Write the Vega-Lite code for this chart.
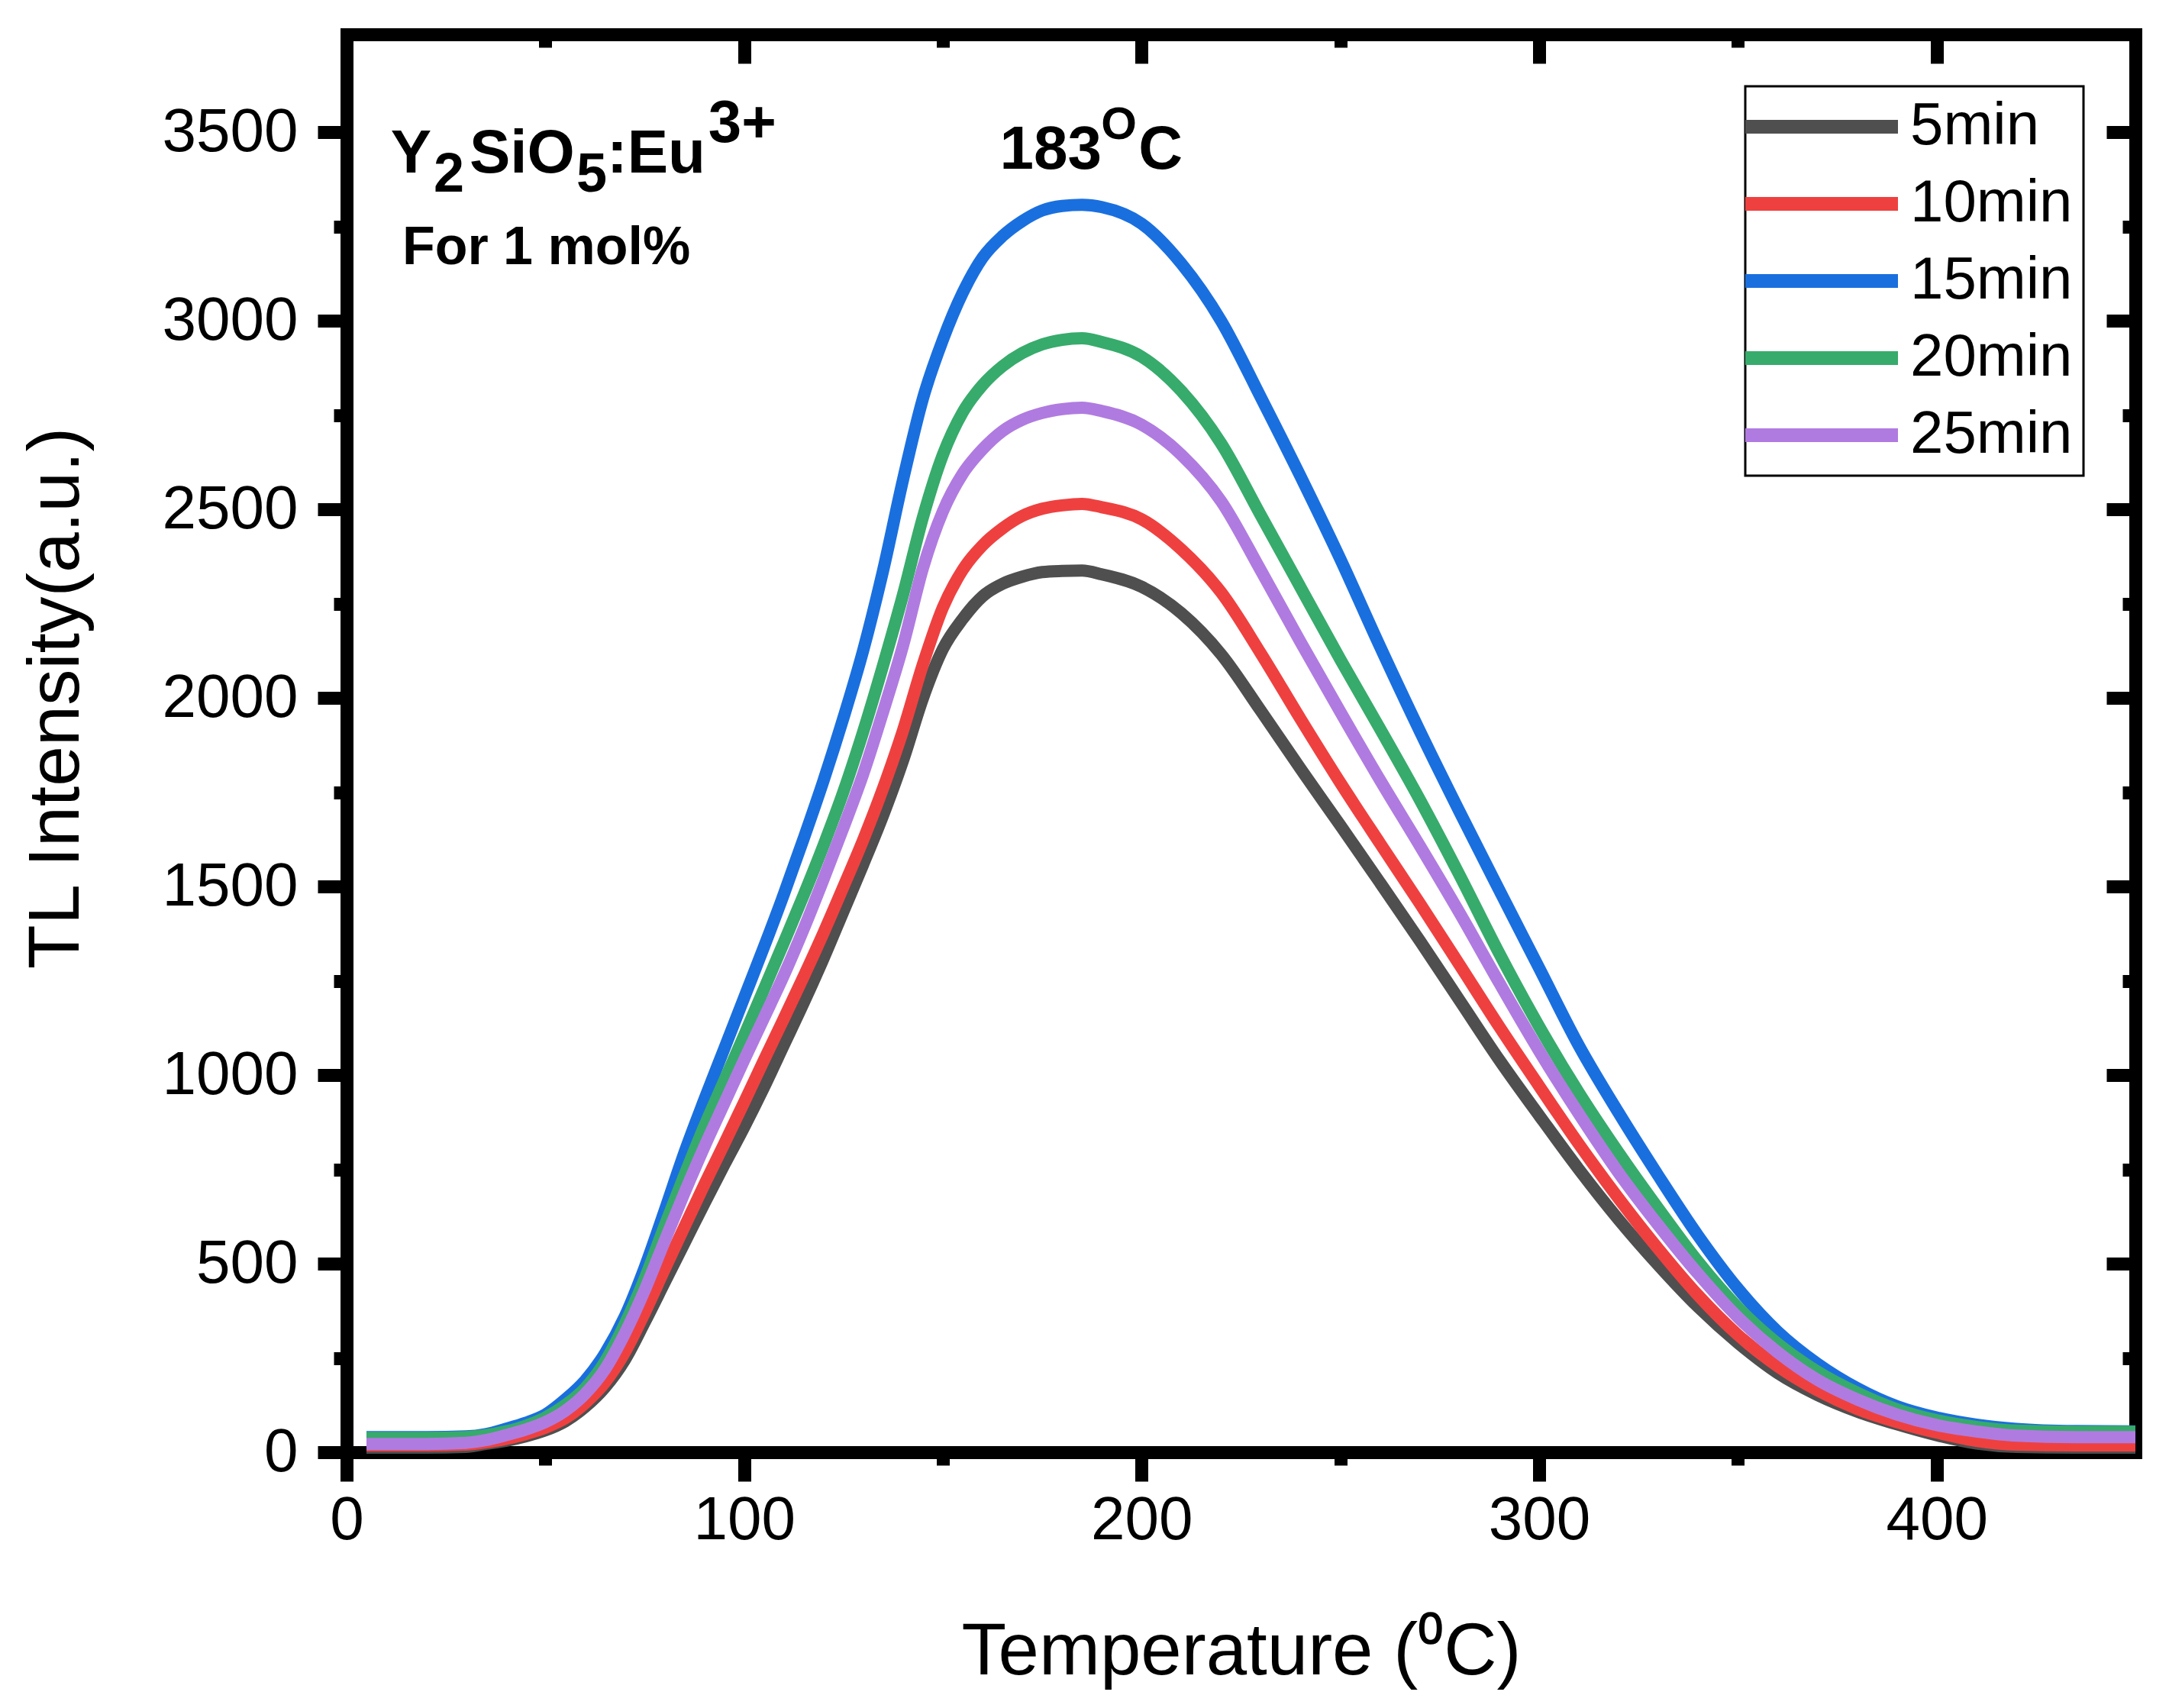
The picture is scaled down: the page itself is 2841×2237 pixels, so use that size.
{
  "$schema": "https://vega.github.io/schema/vega-lite/v6.json",
  "autosize": {"type": "none"},
  "width": 2343,
  "height": 1857,
  "padding": {"left": 454, "top": 45, "right": 44, "bottom": 335},
  "background": "white",
  "config": {
    "view": {"stroke": null},
    "axis": {"grid": false, "labelFont": "Liberation Sans", "titleFont": "Liberation Sans", "labelColor": "black", "titleColor": "black", "domainColor": "black", "tickColor": "black", "labelFlush": false, "labelOverlap": false},
    "legend": {"strokeWidth": 3}
  },
  "datasets": {
    "tl": [
      {"series":"5min","T":5,"I":12},{"series":"5min","T":20,"I":12},{"series":"5min","T":30,"I":14},{"series":"5min","T":35,"I":22},{"series":"5min","T":40,"I":30},{"series":"5min","T":45,"I":42},{"series":"5min","T":50,"I":58},{"series":"5min","T":55,"I":82},{"series":"5min","T":60,"I":120},{"series":"5min","T":65,"I":172},{"series":"5min","T":70,"I":245},{"series":"5min","T":75,"I":345},{"series":"5min","T":80,"I":450},{"series":"5min","T":85,"I":555},{"series":"5min","T":90,"I":660},{"series":"5min","T":95,"I":762},{"series":"5min","T":100,"I":862},{"series":"5min","T":105,"I":968},{"series":"5min","T":110,"I":1080},{"series":"5min","T":115,"I":1192},{"series":"5min","T":120,"I":1310},{"series":"5min","T":125,"I":1435},{"series":"5min","T":130,"I":1560},{"series":"5min","T":135,"I":1690},{"series":"5min","T":140,"I":1835},{"series":"5min","T":145,"I":2000},{"series":"5min","T":150,"I":2130},{"series":"5min","T":155,"I":2210},{"series":"5min","T":160,"I":2270},{"series":"5min","T":165,"I":2303},{"series":"5min","T":170,"I":2322},{"series":"5min","T":175,"I":2334},{"series":"5min","T":180,"I":2337},{"series":"5min","T":185,"I":2338},{"series":"5min","T":190,"I":2328},{"series":"5min","T":200,"I":2295},{"series":"5min","T":210,"I":2225},{"series":"5min","T":220,"I":2116},{"series":"5min","T":230,"I":1966},{"series":"5min","T":240,"I":1812},{"series":"5min","T":250,"I":1662},{"series":"5min","T":260,"I":1510},{"series":"5min","T":270,"I":1356},{"series":"5min","T":280,"I":1198},{"series":"5min","T":290,"I":1040},{"series":"5min","T":300,"I":893},{"series":"5min","T":310,"I":750},{"series":"5min","T":320,"I":617},{"series":"5min","T":330,"I":496},{"series":"5min","T":340,"I":385},{"series":"5min","T":350,"I":290},{"series":"5min","T":360,"I":210},{"series":"5min","T":370,"I":152},{"series":"5min","T":380,"I":108},{"series":"5min","T":390,"I":74},{"series":"5min","T":400,"I":45},{"series":"5min","T":410,"I":23},{"series":"5min","T":420,"I":14},{"series":"5min","T":435,"I":12},{"series":"5min","T":450,"I":12},
      {"series":"10min","T":5,"I":18},{"series":"10min","T":20,"I":18},{"series":"10min","T":30,"I":20},{"series":"10min","T":35,"I":26},{"series":"10min","T":40,"I":35},{"series":"10min","T":45,"I":48},{"series":"10min","T":50,"I":65},{"series":"10min","T":55,"I":90},{"series":"10min","T":60,"I":130},{"series":"10min","T":65,"I":185},{"series":"10min","T":70,"I":265},{"series":"10min","T":75,"I":370},{"series":"10min","T":80,"I":485},{"series":"10min","T":85,"I":598},{"series":"10min","T":90,"I":710},{"series":"10min","T":95,"I":818},{"series":"10min","T":100,"I":928},{"series":"10min","T":105,"I":1040},{"series":"10min","T":110,"I":1150},{"series":"10min","T":115,"I":1262},{"series":"10min","T":120,"I":1378},{"series":"10min","T":125,"I":1500},{"series":"10min","T":130,"I":1625},{"series":"10min","T":135,"I":1762},{"series":"10min","T":140,"I":1915},{"series":"10min","T":145,"I":2090},{"series":"10min","T":150,"I":2240},{"series":"10min","T":155,"I":2340},{"series":"10min","T":160,"I":2405},{"series":"10min","T":165,"I":2450},{"series":"10min","T":170,"I":2483},{"series":"10min","T":175,"I":2502},{"series":"10min","T":180,"I":2511},{"series":"10min","T":185,"I":2515},{"series":"10min","T":190,"I":2506},{"series":"10min","T":200,"I":2474},{"series":"10min","T":210,"I":2394},{"series":"10min","T":220,"I":2280},{"series":"10min","T":230,"I":2118},{"series":"10min","T":240,"I":1944},{"series":"10min","T":250,"I":1775},{"series":"10min","T":260,"I":1614},{"series":"10min","T":270,"I":1455},{"series":"10min","T":280,"I":1292},{"series":"10min","T":290,"I":1128},{"series":"10min","T":300,"I":971},{"series":"10min","T":310,"I":817},{"series":"10min","T":320,"I":673},{"series":"10min","T":330,"I":539},{"series":"10min","T":340,"I":416},{"series":"10min","T":350,"I":311},{"series":"10min","T":360,"I":228},{"series":"10min","T":370,"I":164},{"series":"10min","T":380,"I":115},{"series":"10min","T":390,"I":80},{"series":"10min","T":400,"I":52},{"series":"10min","T":410,"I":30},{"series":"10min","T":420,"I":20},{"series":"10min","T":435,"I":18},{"series":"10min","T":450,"I":18},
      {"series":"15min","T":5,"I":40},{"series":"15min","T":20,"I":40},{"series":"15min","T":30,"I":42},{"series":"15min","T":35,"I":48},{"series":"15min","T":40,"I":62},{"series":"15min","T":45,"I":78},{"series":"15min","T":50,"I":100},{"series":"15min","T":55,"I":140},{"series":"15min","T":60,"I":190},{"series":"15min","T":65,"I":262},{"series":"15min","T":70,"I":360},{"series":"15min","T":75,"I":490},{"series":"15min","T":80,"I":640},{"series":"15min","T":85,"I":795},{"series":"15min","T":90,"I":935},{"series":"15min","T":95,"I":1070},{"series":"15min","T":100,"I":1205},{"series":"15min","T":105,"I":1340},{"series":"15min","T":110,"I":1480},{"series":"15min","T":115,"I":1628},{"series":"15min","T":120,"I":1782},{"series":"15min","T":125,"I":1948},{"series":"15min","T":130,"I":2128},{"series":"15min","T":135,"I":2340},{"series":"15min","T":140,"I":2580},{"series":"15min","T":145,"I":2795},{"series":"15min","T":150,"I":2950},{"series":"15min","T":155,"I":3075},{"series":"15min","T":160,"I":3168},{"series":"15min","T":165,"I":3225},{"series":"15min","T":170,"I":3265},{"series":"15min","T":175,"I":3293},{"series":"15min","T":180,"I":3305},{"series":"15min","T":185,"I":3308},{"series":"15min","T":190,"I":3302},{"series":"15min","T":200,"I":3258},{"series":"15min","T":210,"I":3152},{"series":"15min","T":220,"I":3000},{"series":"15min","T":230,"I":2797},{"series":"15min","T":240,"I":2587},{"series":"15min","T":250,"I":2368},{"series":"15min","T":260,"I":2136},{"series":"15min","T":270,"I":1912},{"series":"15min","T":280,"I":1698},{"series":"15min","T":290,"I":1490},{"series":"15min","T":300,"I":1284},{"series":"15min","T":310,"I":1078},{"series":"15min","T":320,"I":900},{"series":"15min","T":330,"I":733},{"series":"15min","T":340,"I":574},{"series":"15min","T":350,"I":434},{"series":"15min","T":360,"I":320},{"series":"15min","T":370,"I":235},{"series":"15min","T":380,"I":170},{"series":"15min","T":390,"I":122},{"series":"15min","T":400,"I":92},{"series":"15min","T":410,"I":73},{"series":"15min","T":420,"I":62},{"series":"15min","T":435,"I":56},{"series":"15min","T":450,"I":55},
      {"series":"20min","T":5,"I":38},{"series":"20min","T":20,"I":38},{"series":"20min","T":30,"I":40},{"series":"20min","T":35,"I":45},{"series":"20min","T":40,"I":55},{"series":"20min","T":45,"I":70},{"series":"20min","T":50,"I":92},{"series":"20min","T":55,"I":125},{"series":"20min","T":60,"I":170},{"series":"20min","T":65,"I":240},{"series":"20min","T":70,"I":340},{"series":"20min","T":75,"I":460},{"series":"20min","T":80,"I":600},{"series":"20min","T":85,"I":735},{"series":"20min","T":90,"I":865},{"series":"20min","T":95,"I":985},{"series":"20min","T":100,"I":1105},{"series":"20min","T":105,"I":1228},{"series":"20min","T":110,"I":1352},{"series":"20min","T":115,"I":1478},{"series":"20min","T":120,"I":1610},{"series":"20min","T":125,"I":1752},{"series":"20min","T":130,"I":1912},{"series":"20min","T":135,"I":2088},{"series":"20min","T":140,"I":2275},{"series":"20min","T":145,"I":2480},{"series":"20min","T":150,"I":2645},{"series":"20min","T":155,"I":2758},{"series":"20min","T":160,"I":2830},{"series":"20min","T":165,"I":2880},{"series":"20min","T":170,"I":2915},{"series":"20min","T":175,"I":2938},{"series":"20min","T":180,"I":2950},{"series":"20min","T":185,"I":2954},{"series":"20min","T":190,"I":2944},{"series":"20min","T":200,"I":2905},{"series":"20min","T":210,"I":2814},{"series":"20min","T":220,"I":2675},{"series":"20min","T":230,"I":2484},{"series":"20min","T":240,"I":2293},{"series":"20min","T":250,"I":2102},{"series":"20min","T":260,"I":1918},{"series":"20min","T":270,"I":1730},{"series":"20min","T":280,"I":1530},{"series":"20min","T":290,"I":1322},{"series":"20min","T":300,"I":1129},{"series":"20min","T":310,"I":953},{"series":"20min","T":320,"I":794},{"series":"20min","T":330,"I":646},{"series":"20min","T":340,"I":505},{"series":"20min","T":350,"I":384},{"series":"20min","T":360,"I":288},{"series":"20min","T":370,"I":214},{"series":"20min","T":380,"I":158},{"series":"20min","T":390,"I":114},{"series":"20min","T":400,"I":85},{"series":"20min","T":410,"I":67},{"series":"20min","T":420,"I":57},{"series":"20min","T":435,"I":54},{"series":"20min","T":450,"I":54},
      {"series":"25min","T":5,"I":22},{"series":"25min","T":20,"I":22},{"series":"25min","T":30,"I":25},{"series":"25min","T":35,"I":32},{"series":"25min","T":40,"I":45},{"series":"25min","T":45,"I":60},{"series":"25min","T":50,"I":80},{"series":"25min","T":55,"I":110},{"series":"25min","T":60,"I":155},{"series":"25min","T":65,"I":220},{"series":"25min","T":70,"I":315},{"series":"25min","T":75,"I":430},{"series":"25min","T":80,"I":560},{"series":"25min","T":85,"I":688},{"series":"25min","T":90,"I":810},{"series":"25min","T":95,"I":925},{"series":"25min","T":100,"I":1040},{"series":"25min","T":105,"I":1152},{"series":"25min","T":110,"I":1265},{"series":"25min","T":115,"I":1388},{"series":"25min","T":120,"I":1520},{"series":"25min","T":125,"I":1657},{"series":"25min","T":130,"I":1800},{"series":"25min","T":135,"I":1965},{"series":"25min","T":140,"I":2140},{"series":"25min","T":145,"I":2345},{"series":"25min","T":150,"I":2495},{"series":"25min","T":155,"I":2595},{"series":"25min","T":160,"I":2660},{"series":"25min","T":165,"I":2708},{"series":"25min","T":170,"I":2738},{"series":"25min","T":175,"I":2756},{"series":"25min","T":180,"I":2766},{"series":"25min","T":185,"I":2770},{"series":"25min","T":190,"I":2761},{"series":"25min","T":200,"I":2725},{"series":"25min","T":210,"I":2645},{"series":"25min","T":220,"I":2522},{"series":"25min","T":230,"I":2338},{"series":"25min","T":240,"I":2148},{"series":"25min","T":250,"I":1963},{"series":"25min","T":260,"I":1782},{"series":"25min","T":270,"I":1608},{"series":"25min","T":280,"I":1430},{"series":"25min","T":290,"I":1244},{"series":"25min","T":300,"I":1064},{"series":"25min","T":310,"I":897},{"series":"25min","T":320,"I":741},{"series":"25min","T":330,"I":602},{"series":"25min","T":340,"I":473},{"series":"25min","T":350,"I":358},{"series":"25min","T":360,"I":265},{"series":"25min","T":370,"I":192},{"series":"25min","T":380,"I":140},{"series":"25min","T":390,"I":100},{"series":"25min","T":400,"I":72},{"series":"25min","T":410,"I":55},{"series":"25min","T":420,"I":44},{"series":"25min","T":435,"I":40},{"series":"25min","T":450,"I":40}
    ],
    "one": [{"k": 1}]
  },
  "data": {"name": "tl"},
  "resolve": {"axis": {"x": "independent", "y": "independent"}},
  "layer": [
    {
      "mark": {"type": "line", "strokeWidth": 16, "interpolate": "monotone", "strokeJoin": "round"},
      "encoding": {
        "x": {"field": "T", "type": "quantitative", "scale": {"domain": [0, 450], "nice": false, "zero": false},
          "axis": {"orient": "bottom", "values": [0, 100, 200, 300, 400], "format": "d", "title": "Temperature (⁰C)",
            "domain": true, "domainWidth": 17, "domainCap": "square", "tickSize": 38, "tickWidth": 17,
            "labelFontSize": 80, "labelPadding": 12, "titleFontSize": 96, "titleFontWeight": "normal", "titleBaseline": "alphabetic", "titleY": 290}},
        "y": {"field": "I", "type": "quantitative", "scale": {"domain": [0, 3760], "nice": false},
          "axis": {"orient": "left", "values": [0, 500, 1000, 1500, 2000, 2500, 3000, 3500], "format": "d", "title": "TL Intensity(a.u.)",
            "domain": true, "domainWidth": 17, "domainCap": "square", "tickSize": 38, "tickWidth": 17,
            "labelFontSize": 80, "labelPadding": 26, "titleFontSize": 95, "titleFontWeight": "normal", "titleBaseline": "alphabetic", "titleAlign": "center", "titleX": -352, "titleY": 869}},
        "color": {"field": "series", "type": "nominal",
          "scale": {"domain": ["5min", "10min", "15min", "20min", "25min"], "range": ["#4f4f4f", "#ef4040", "#1a6fdf", "#37ab6b", "#b07be0"]},
          "legend": {"orient": "none", "legendX": 1832, "legendY": 68, "title": null, "symbolType": "M -1.77 0 L 4.9 0", "symbolSize": 3600, "symbolStrokeWidth": 18,
            "labelFont": "Liberation Sans", "labelFontSize": 78, "labelColor": "black", "labelLimit": 500, "labelOffset": 124, "rowPadding": 23, "padding": 14,
            "strokeColor": "black", "fillColor": "white"}}
      }
    },
    {
      "mark": {"type": "point", "opacity": 0},
      "encoding": {
        "x": {"field": "T", "type": "quantitative", "scale": {"domain": [0, 450], "nice": false, "zero": false},
          "axis": {"orient": "bottom", "values": [50, 150, 250, 350], "labels": false, "domain": false, "title": null, "tickSize": 17, "tickWidth": 17}},
        "y": {"field": "I", "type": "quantitative", "scale": {"domain": [0, 3760], "nice": false},
          "axis": {"orient": "left", "values": [250, 750, 1250, 1750, 2250, 2750, 3250], "labels": false, "domain": false, "title": null, "tickSize": 17, "tickWidth": 17}}
      }
    },
    {
      "mark": {"type": "point", "opacity": 0},
      "encoding": {
        "x": {"field": "T", "type": "quantitative", "scale": {"domain": [0, 450], "nice": false, "zero": false},
          "axis": {"orient": "top", "values": [100, 200, 300, 400], "labels": false, "domain": true, "domainWidth": 17, "domainCap": "square", "title": null, "tickSize": -38, "tickWidth": 17}},
        "y": {"field": "I", "type": "quantitative", "scale": {"domain": [0, 3760], "nice": false},
          "axis": {"orient": "right", "values": [500, 1000, 1500, 2000, 2500, 3000, 3500], "labels": false, "domain": true, "domainWidth": 17, "domainCap": "square", "title": null, "tickSize": -38, "tickWidth": 17}}
      }
    },
    {
      "mark": {"type": "point", "opacity": 0},
      "encoding": {
        "x": {"field": "T", "type": "quantitative", "scale": {"domain": [0, 450], "nice": false, "zero": false},
          "axis": {"orient": "top", "values": [50, 150, 250, 350], "labels": false, "domain": false, "title": null, "tickSize": -17, "tickWidth": 17}},
        "y": {"field": "I", "type": "quantitative", "scale": {"domain": [0, 3760], "nice": false},
          "axis": {"orient": "right", "values": [250, 750, 1250, 1750, 2250, 2750, 3250], "labels": false, "domain": false, "title": null, "tickSize": -17, "tickWidth": 17}}
      }
    },
    {"data": {"name": "one"}, "mark": {"type": "text", "fontSize": 80, "font": "Liberation Sans", "fontWeight": "bold", "align": "left", "baseline": "alphabetic", "color": "black"},
      "encoding": {"text": {"value": "Y"}, "x": {"datum": 11.1, "type": "quantitative", "axis": null}, "y": {"datum": 3393, "type": "quantitative", "axis": null}}},
    {"data": {"name": "one"}, "mark": {"type": "text", "fontSize": 72, "font": "Liberation Sans", "fontWeight": "bold", "align": "left", "baseline": "alphabetic", "color": "black"},
      "encoding": {"text": {"value": "2"}, "x": {"datum": 21.9, "type": "quantitative", "axis": null}, "y": {"datum": 3342, "type": "quantitative", "axis": null}}},
    {"data": {"name": "one"}, "mark": {"type": "text", "fontSize": 80, "font": "Liberation Sans", "fontWeight": "bold", "align": "left", "baseline": "alphabetic", "color": "black"},
      "encoding": {"text": {"value": "SiO"}, "x": {"datum": 30.9, "type": "quantitative", "axis": null}, "y": {"datum": 3393, "type": "quantitative", "axis": null}}},
    {"data": {"name": "one"}, "mark": {"type": "text", "fontSize": 72, "font": "Liberation Sans", "fontWeight": "bold", "align": "left", "baseline": "alphabetic", "color": "black"},
      "encoding": {"text": {"value": "5"}, "x": {"datum": 57.8, "type": "quantitative", "axis": null}, "y": {"datum": 3342, "type": "quantitative", "axis": null}}},
    {"data": {"name": "one"}, "mark": {"type": "text", "fontSize": 80, "font": "Liberation Sans", "fontWeight": "bold", "align": "left", "baseline": "alphabetic", "color": "black"},
      "encoding": {"text": {"value": ":Eu"}, "x": {"datum": 65.5, "type": "quantitative", "axis": null}, "y": {"datum": 3393, "type": "quantitative", "axis": null}}},
    {"data": {"name": "one"}, "mark": {"type": "text", "fontSize": 78, "font": "Liberation Sans", "fontWeight": "bold", "align": "left", "baseline": "alphabetic", "color": "black"},
      "encoding": {"text": {"value": "3+"}, "x": {"datum": 91.0, "type": "quantitative", "axis": null}, "y": {"datum": 3474, "type": "quantitative", "axis": null}}},
    {"data": {"name": "one"}, "mark": {"type": "text", "fontSize": 70, "font": "Liberation Sans", "fontWeight": "bold", "align": "left", "baseline": "alphabetic", "color": "black"},
      "encoding": {"text": {"value": "For 1 mol%"}, "x": {"datum": 14.0, "type": "quantitative", "axis": null}, "y": {"datum": 3150, "type": "quantitative", "axis": null}}},
    {"data": {"name": "one"}, "mark": {"type": "text", "fontSize": 80, "font": "Liberation Sans", "fontWeight": "bold", "align": "left", "baseline": "alphabetic", "color": "black"},
      "encoding": {"text": {"value": "183"}, "x": {"datum": 164.3, "type": "quantitative", "axis": null}, "y": {"datum": 3403, "type": "quantitative", "axis": null}}},
    {"data": {"name": "one"}, "mark": {"type": "text", "fontSize": 60, "font": "Liberation Sans", "fontWeight": "bold", "align": "left", "baseline": "alphabetic", "color": "black"},
      "encoding": {"text": {"value": "O"}, "x": {"datum": 189.8, "type": "quantitative", "axis": null}, "y": {"datum": 3482, "type": "quantitative", "axis": null}}},
    {"data": {"name": "one"}, "mark": {"type": "text", "fontSize": 80, "font": "Liberation Sans", "fontWeight": "bold", "align": "left", "baseline": "alphabetic", "color": "black"},
      "encoding": {"text": {"value": "C"}, "x": {"datum": 199.2, "type": "quantitative", "axis": null}, "y": {"datum": 3403, "type": "quantitative", "axis": null}}}
  ]
}
